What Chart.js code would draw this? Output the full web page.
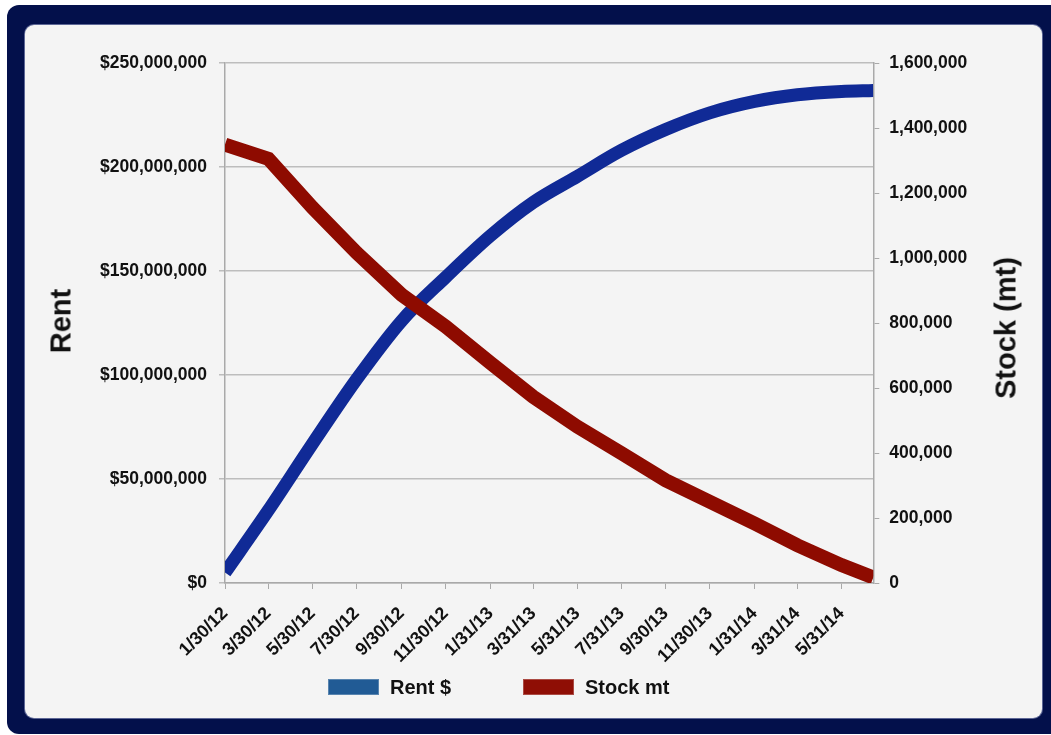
<!DOCTYPE html>
<html>
<head>
<meta charset="utf-8">
<script src="https://cdn.jsdelivr.net/npm/chart.js@4"></script>
<style>
  body {
    margin: 0;
    width: 1051px;
    height: 735px;
    overflow: hidden;
    position: relative;
    background: #fff;
    font-family: "Liberation Sans", Arial, sans-serif;
  }
  .frame {
    position: absolute;
    left: 7px;
    top: 5px;
    width: 1070px;
    height: 729px;
    background: #03104b;
    border-radius: 12px;
  }
  .panel {
    position: absolute;
    left: 25px;
    top: 25px;
    width: 1017px;
    height: 693px;
    background: #f4f4f4;
    border-radius: 9px;
    box-shadow: 0 0 0 1px #5d6796;
  }
  .panel canvas {
    position: absolute;
    left: 0;
    top: 0;
  }
  .axis-title {
    position: absolute;
    font-weight: bold;
    font-size: 29px;
    color: #111;
    white-space: nowrap;
    transform: translate(-50%, -50%) rotate(-90deg);
  }
  .legend {
    position: absolute;
    left: 303px;
    top: 654px;
    display: flex;
  }
  .legend-item {
    display: flex;
    align-items: center;
    height: 16px;
  }
  .legend-item:first-child { width: 195px; }
  .legend-box {
    width: 51px;
    height: 16px;
    margin-right: 11px;
    box-sizing: border-box;
    border: 1px solid rgba(255, 255, 255, 0.25);
  }
  .legend-text {
    font-weight: bold;
    font-size: 20px;
    color: #111;
  }
</style>
</head>
<body>
<div class="frame"></div>
<div class="panel">
  <canvas id="chart" width="1017" height="693"></canvas>
  <div class="axis-title" style="left:36px; top:296px;">Rent</div>
  <div class="axis-title" style="left:981px; top:303px;">Stock (mt)</div>
  <div class="legend" id="legend"></div>
</div>
<script>
// x axis labels, one every two months
const tickLabels = ["1/30/12", "3/30/12", "5/30/12", "7/30/12", "9/30/12", "11/30/12",
  "1/31/13", "3/31/13", "5/31/13", "7/31/13", "9/30/13", "11/30/13",
  "1/31/14", "3/31/14", "5/31/14"];
const pointDates = tickLabels.concat(["7/14/14"]);

// cumulative rent in dollars
const rentValues = [5000000, 35000000, 67000000, 98000000, 126000000, 147000000,
  167000000, 183000000, 195500000, 208000000, 218000000, 226000000,
  231500000, 234700000, 236300000, 236800000];

// stock remaining in metric tons
const stockValues = [1349000, 1305000, 1155000, 1016000, 887000, 789000,
  677000, 573000, 481000, 399000, 316000, 250000,
  183000, 116000, 55000, 17000];

const seriesLabels = ["Rent $", "Stock mt"];
const lineColors = ["#102a96", "#8e0b00"];
const legendColors = ["#215b95", "#8f0e05"];

function dayIndex(s) {
  const [m, d, y] = s.split("/").map(Number);
  return (Date.UTC(2000 + y, m - 1, d) - Date.UTC(2012, 0, 30)) / 86400000;
}

const labelByDay = {};
tickLabels.forEach((l) => { labelByDay[dayIndex(l)] = l; });

const tickFont = { family: "'Liberation Sans', Arial, sans-serif", size: 17.5, weight: "bold" };
const axisGray = "#a9a9a9";

const data = {
  datasets: [
    {
      label: seriesLabels[0],
      data: pointDates.map((d, i) => ({ x: dayIndex(d), y: rentValues[i] })),
      yAxisID: "y",
      borderColor: lineColors[0],
      backgroundColor: legendColors[0],
      borderWidth: 13,
      pointRadius: 0,
      cubicInterpolationMode: "monotone",
      order: 1,
    },
    {
      label: seriesLabels[1],
      data: pointDates.map((d, i) => ({ x: dayIndex(d), y: stockValues[i] })),
      yAxisID: "y1",
      borderColor: lineColors[1],
      backgroundColor: legendColors[1],
      borderWidth: 14,
      pointRadius: 0,
      tension: 0,
      order: 0,
    },
  ],
};

const config = {
  type: "line",
  data: data,
  options: {
    responsive: false,
    animation: false,
    devicePixelRatio: 1,
    layout: { padding: { top: 38, left: 0, right: 0, bottom: 0 } },
    plugins: {
      legend: { display: false },
      tooltip: { enabled: false },
    },
    scales: {
      x: {
        type: "linear",
        min: 0,
        max: dayIndex(pointDates[pointDates.length - 1]),
        afterBuildTicks: (scale) => {
          scale.ticks = tickLabels.map((l) => ({ value: dayIndex(l) }));
        },
        afterFit: (scale) => { scale.height = 135; },
        ticks: {
          autoSkip: false,
          minRotation: 45,
          maxRotation: 45,
          padding: 14,
          color: "#111",
          font: { family: tickFont.family, size: 18, weight: "bold" },
          callback: (value) => labelByDay[value],
        },
        grid: { drawOnChartArea: false, tickLength: 6, color: axisGray },
        border: { color: axisGray, width: 1.5 },
      },
      y: {
        position: "left",
        min: 0,
        max: 250000000,
        afterFit: (scale) => { scale.width = 200; },
        ticks: {
          stepSize: 50000000,
          padding: 12,
          color: "#111",
          font: tickFont,
          callback: (v) => "$" + v.toLocaleString("en-US"),
        },
        grid: { color: "#bdbdbd", lineWidth: 1.5, tickLength: 6 },
        border: { color: axisGray, width: 1.5 },
      },
      y1: {
        position: "right",
        min: 0,
        max: 1600000,
        afterFit: (scale) => { scale.width = 168.7; },
        ticks: {
          stepSize: 200000,
          padding: 10,
          color: "#111",
          font: tickFont,
          callback: (v) => v.toLocaleString("en-US"),
        },
        grid: { drawOnChartArea: false, tickLength: 6, color: axisGray },
        border: { color: axisGray, width: 1.5 },
      },
    },
  },
};

const chart = new Chart("chart", config);

// legend built from the datasets
function renderLegend(chart) {
  const box = document.getElementById("legend");
  chart.data.datasets.forEach((ds, i) => {
    const item = document.createElement("div");
    item.className = "legend-item";
    const swatch = document.createElement("span");
    swatch.className = "legend-box";
    swatch.style.background = legendColors[i];
    const text = document.createElement("span");
    text.className = "legend-text";
    text.innerText = ds.label;
    item.append(swatch, text);
    box.append(item);
  });
}

renderLegend(chart);
</script>
</body>
</html>
